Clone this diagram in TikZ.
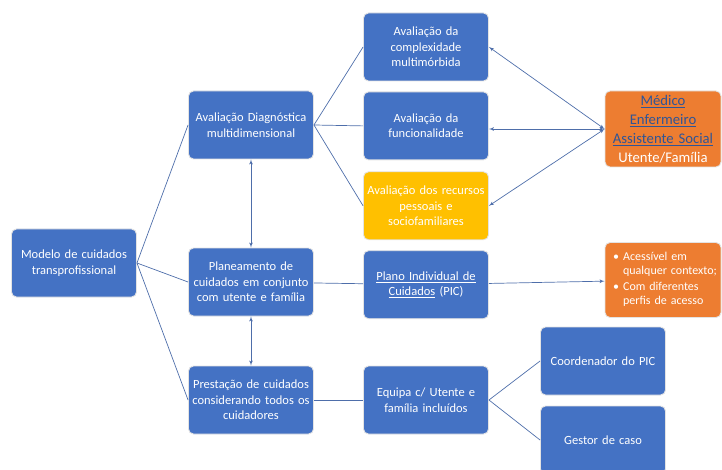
\documentclass[tikz,border=0pt]{standalone}
\usepackage{fontspec}
\setmainfont{Carlito}
\usetikzlibrary{arrows,positioning}
\definecolor{boxblue}{RGB}{68,114,196}
\definecolor{boxorange}{RGB}{237,125,49}
\definecolor{boxyellow}{RGB}{255,192,0}
\definecolor{linkblue}{RGB}{47,85,151}
\definecolor{wirecol}{RGB}{78,110,170}

\begin{document}
\begin{tikzpicture}[x=1pt,y=-1pt,>=latex',line width=0.7pt,draw=wirecol,
                    font=\fontsize{12.5}{15.5}\selectfont]
  \tikzstyle{box}=[rectangle,rounded corners=5pt,fill=boxblue,draw=white!78!gray,line width=0.9pt,
                   text=white,align=center,minimum width=125pt,minimum height=68pt,
                   text width=121pt,inner sep=1pt]
  \tikzstyle{side}=[box,fill=boxorange,minimum width=116pt,text width=112pt]
  \useasboundingbox (0,0) rectangle (722,470);

  \node[box] (mod)    at (74,263)  {Modelo de cuidados\\transprofissional};
  \node[box] (diag)   at (251,125) {Avaliação Diagnóstica\\multidimensional};
  \node[box] (plan)   at (251,282) {Planeamento de\\cuidados em conjunto\\com utente e família};
  \node[box] (prest)  at (251,400) {Prestação de cuidados\\considerando todos os\\cuidadores};
  \node[box] (compl)  at (426,47)  {Avaliação da\\complexidade\\multimórbida};
  \node[box] (func)   [below=10pt of compl] {Avaliação da\\funcionalidade};
  \node[box,fill=boxyellow] (recur) [below=11pt of func] {Avaliação dos recursos\\pessoais e\\sociofamiliares};
  \node[box] (pic)    [below=10pt of recur] {\underline{Plano Individual de}\\\underline{Cuidados} (PIC)};
  \node[box] (equipa) at (426,400) {Equipa c/ Utente e\\família incluídos};
  \node[box] (coord)  at (603,361) {Coordenador do PIC};
  \node[box] (gestor) at (603,440) {Gestor de caso};
  \node[side,minimum height=76pt,inner sep=0pt,font=\fontsize{14.7}{19}\selectfont] (med) at (663,129)
       {\textcolor{linkblue}{\underline{Médico}}\\\textcolor{linkblue}{\underline{Enfermeiro}}\\
        \textcolor{linkblue}{\underline{Assistente Social}}\\Utente/Família};
  \node[side,minimum height=75pt,font=\fontsize{12}{14}\selectfont] (acess) at (663,280)
       {\begin{tabular}{@{\hspace{4pt}}l@{\hspace{4pt}}l@{}}
        \textbullet & Acessível em\\ & qualquer contexto;\\[2pt]
        \textbullet & Com diferentes\\ & perfis de acesso
        \end{tabular}};

  \path (mod.east) edge (diag.west) edge (plan.west) edge (prest.west)
        (diag.east) edge (compl.west) edge (func.west) edge (recur.west)
        (diag) edge [<->] (plan)
        (plan) edge [<->] (prest)
        (plan) edge (pic)
        (prest) edge (equipa)
        (pic) edge [->] (acess)
        (equipa.east) edge (coord.west) edge (gestor.west)
        (med.west) edge [<->] (compl.east)
                   edge [<->] (func.east |- med.west)
                   edge [<->] (recur.east);
\end{tikzpicture}
\end{document}
